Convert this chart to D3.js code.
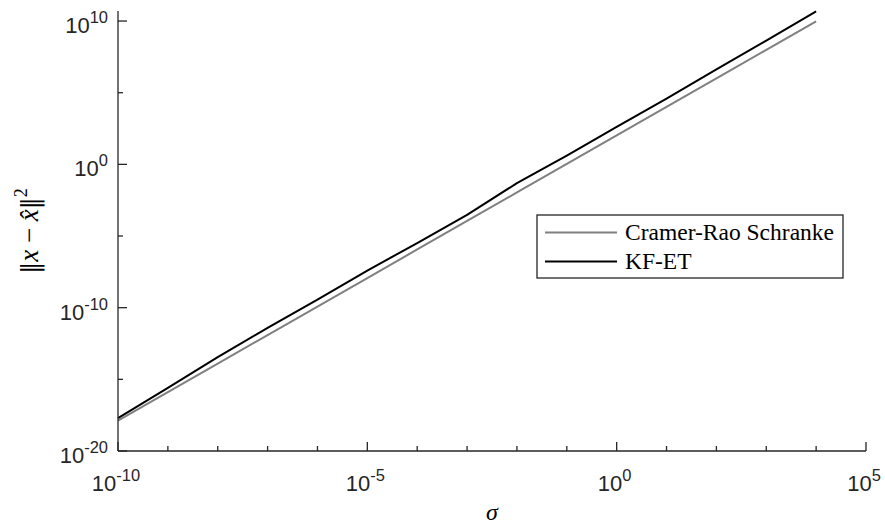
<!DOCTYPE html>
<html>
<head>
<meta charset="utf-8">
<script src="https://cdn.jsdelivr.net/npm/d3@7"></script>
<style>
  html, body { margin: 0; padding: 0; background: #fff; }
  svg { display: block; }
</style>
</head>
<body>
<svg id="chart" width="885" height="525"></svg>
<script>
// noise level sigma, one sample per decade
const sigma = [1e-10, 1e-9, 1e-8, 1e-7, 1e-6, 1e-5, 1e-4, 1e-3, 1e-2, 1e-1, 1e0, 1e1, 1e2, 1e3, 1e4];

// Cramer-Rao bound on the squared estimation error
const crBound = [1.32e-18, 1.29e-16, 1.26e-14, 1.23e-12, 1.20e-10, 1.17e-8, 1.15e-6, 1.12e-4,
                 1.10e-2, 1.07, 1.05e2, 1.023e4, 1.00e6, 9.77e7, 9.55e9];

// squared error of the KF-ET estimator
const kfEt = [2.0e-18, 2.57e-16, 3.55e-14, 3.89e-12, 3.63e-10, 3.89e-8, 3.24e-6, 2.95e-4,
              4.90e-2, 4.07, 4.17e2, 3.89e4, 4.17e6, 4.37e8, 4.79e10];

const seriesNames = ["Cramer-Rao Schranke", "KF-ET"];
const seriesColors = ["#808080", "#000000"];

const xMajorExp = [-10, -5, 0, 5];
const xMinorExp = [-9, -8, -7, -6, -4, -3, -2, -1, 1, 2, 3, 4];
const yMajorExp = [-20, -10, 0, 10];
const yMinorExp = [-15, -5, 5];

const svg = d3.select("#chart");
const axisColor = "#262626";

const plotL = 118, plotR = 866, plotT = 11, plotB = 451;
const x = d3.scaleLog().domain([1e-10, 1e5]).range([plotL, plotR]);
const y = d3.scaleLog().domain([1e-20, Math.pow(10, 10.7)]).range([plotB, plotT]);

// data lines
const series = [crBound, kfEt];
const line = d3.line().x(d => x(d[0])).y(d => y(d[1]));
series.forEach((vals, i) => {
  svg.append("path")
    .datum(sigma.map((s, j) => [s, vals[j]]))
    .attr("fill", "none")
    .attr("stroke", seriesColors[i])
    .attr("stroke-width", 2)
    .attr("stroke-linejoin", "round")
    .attr("d", line);
});

// axes (ticks pointing inward, no box)
const gx = svg.append("g");
gx.append("line").attr("x1", plotL).attr("x2", plotR).attr("y1", plotB).attr("y2", plotB)
  .attr("stroke", axisColor).attr("stroke-width", 1.3);
xMajorExp.forEach(e => {
  const px = x(Math.pow(10, e));
  gx.append("line").attr("x1", px).attr("x2", px).attr("y1", plotB).attr("y2", plotB - 9)
    .attr("stroke", axisColor).attr("stroke-width", 1.3);
});
xMinorExp.forEach(e => {
  const px = x(Math.pow(10, e));
  gx.append("line").attr("x1", px).attr("x2", px).attr("y1", plotB).attr("y2", plotB - 5)
    .attr("stroke", axisColor).attr("stroke-width", 1.3);
});

const gy = svg.append("g");
gy.append("line").attr("x1", plotL).attr("x2", plotL).attr("y1", plotT).attr("y2", plotB)
  .attr("stroke", axisColor).attr("stroke-width", 1.3);
yMajorExp.forEach(e => {
  const py = y(Math.pow(10, e));
  gy.append("line").attr("x1", plotL).attr("x2", plotL + 9).attr("y1", py).attr("y2", py)
    .attr("stroke", axisColor).attr("stroke-width", 1.3);
});
yMinorExp.forEach(e => {
  const py = y(Math.pow(10, e));
  gy.append("line").attr("x1", plotL).attr("x2", plotL + 5).attr("y1", py).attr("y2", py)
    .attr("stroke", axisColor).attr("stroke-width", 1.3);
});

// power-of-ten tick labels
function powLabel(g, px, py, e, anchor) {
  const t = g.append("text")
    .attr("x", px).attr("y", py)
    .attr("text-anchor", anchor)
    .attr("fill", axisColor)
    .attr("font-family", "'Liberation Sans', Arial, Helvetica, sans-serif")
    .attr("font-size", 22);
  t.append("tspan").text("10");
  t.append("tspan").attr("dy", -10).attr("font-size", 16.5).text(String(e));
  return t;
}
xMajorExp.forEach(e => powLabel(gx, x(Math.pow(10, e)) - 2, plotB + 40, e, "middle"));
yMajorExp.forEach(e => powLabel(gy, 108, y(Math.pow(10, e)) + 12, e, "end"));

// axis titles
svg.append("text")
  .attr("x", (plotL + plotR) / 2).attr("y", 520)
  .attr("text-anchor", "middle")
  .attr("font-family", "'Liberation Serif', 'DejaVu Serif', serif")
  .attr("font-style", "italic")
  .attr("font-size", 24)
  .attr("fill", "#000")
  .text("σ");

const yt = svg.append("text")
  .attr("transform", `translate(38,${(plotT + plotB) / 2}) rotate(-90)`)
  .attr("text-anchor", "middle")
  .attr("font-family", "'Liberation Serif', 'DejaVu Serif', serif")
  .attr("font-size", 27)
  .attr("fill", "#000");
yt.append("tspan").attr("font-family", "'DejaVu Serif', serif").attr("font-size", 24).text("\u2016");
yt.append("tspan").attr("font-style", "italic").text("x");
yt.append("tspan").text(" \u2212 ");
yt.append("tspan").attr("font-style", "italic").text("x\u0302");
yt.append("tspan").attr("font-family", "'DejaVu Serif', serif").attr("font-size", 24).text("\u2016");
yt.append("tspan").attr("dy", -11).attr("font-size", 18).text("2");

// legend
const lg = svg.append("g");
lg.append("rect").attr("x", 537).attr("y", 215).attr("width", 306).attr("height", 63)
  .attr("fill", "#fff").attr("stroke", axisColor).attr("stroke-width", 1.3);
seriesNames.forEach((name, i) => {
  const ly = 232.5 + i * 29;
  lg.append("line").attr("x1", 545).attr("x2", 617).attr("y1", ly).attr("y2", ly)
    .attr("stroke", seriesColors[i]).attr("stroke-width", 2);
  lg.append("text").attr("x", 625).attr("y", ly + 7.5)
    .attr("font-family", "'Liberation Serif', 'DejaVu Serif', serif")
    .attr("font-size", 23.5)
    .attr("fill", "#000")
    .text(name);
});
</script>
</body>
</html>
